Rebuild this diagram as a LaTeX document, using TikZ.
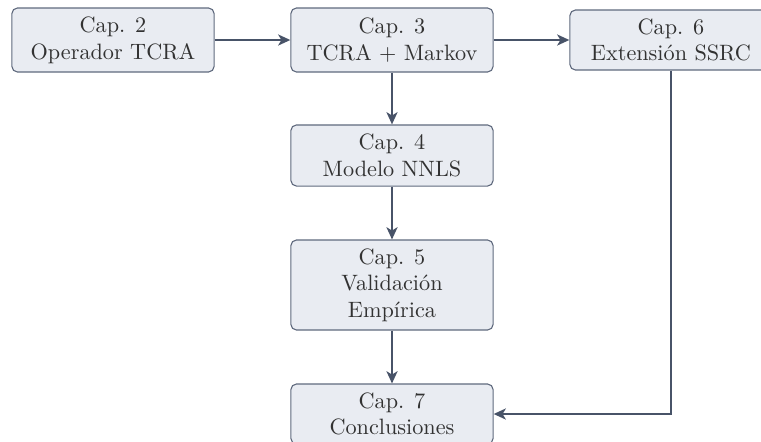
\documentclass[tikz,border=0pt]{standalone}
\usetikzlibrary{arrows.meta}

\definecolor{boxfill}{RGB}{233,236,242}
\definecolor{boxline}{RGB}{96,106,126}
\definecolor{flowline}{RGB}{72,83,104}
\definecolor{inktext}{RGB}{50,50,50}

\tikzset{
  chapter/.style={draw=boxline, line width=0.5pt, fill=boxfill, rounded corners=2.5pt,
    text=inktext, align=center, minimum width=91pt, inner sep=1pt,
    font=\fontsize{10}{12}\selectfont},
  flow/.style={draw=flowline, line width=0.9pt,
    -{Stealth[length=5.5pt,width=5pt,inset=1.5pt]}}
}

\begin{document}
\begin{tikzpicture}[x=0.45pt, y=-0.45pt]
  \useasboundingbox (0,0) rectangle (761,441);
  \clip (0,0) rectangle (761,441);

  \node[chapter, minimum height=28.8pt] (c2) at (113,40) {Cap. 2\\Operador TCRA};
  \node[chapter, minimum height=28.8pt] (c3) at (392,40) {Cap. 3\\TCRA + Markov};
  \node[chapter, minimum height=27pt]   (c6) at (671,40) {Cap. 6\\Extensión SSRC};
  \node[chapter, minimum height=27.5pt] (c4) at (392,155.5) {Cap. 4\\Modelo NNLS};
  \node[chapter, minimum height=40.5pt] (c5) at (392,285) {Cap. 5\\Validación\\Empírica};
  \node[chapter, minimum height=27pt]   (c7) at (392,414) {Cap. 7\\Conclusiones};

  \draw[flow] (c2) -- (c3);
  \draw[flow] (c3) -- (c6);
  \draw[flow] (c3) -- (c4);
  \draw[flow] (c4) -- (c5);
  \draw[flow] (c5) -- (c7);
  \draw[flow] (c6.south) |- (c7.east);
\end{tikzpicture}
\end{document}
